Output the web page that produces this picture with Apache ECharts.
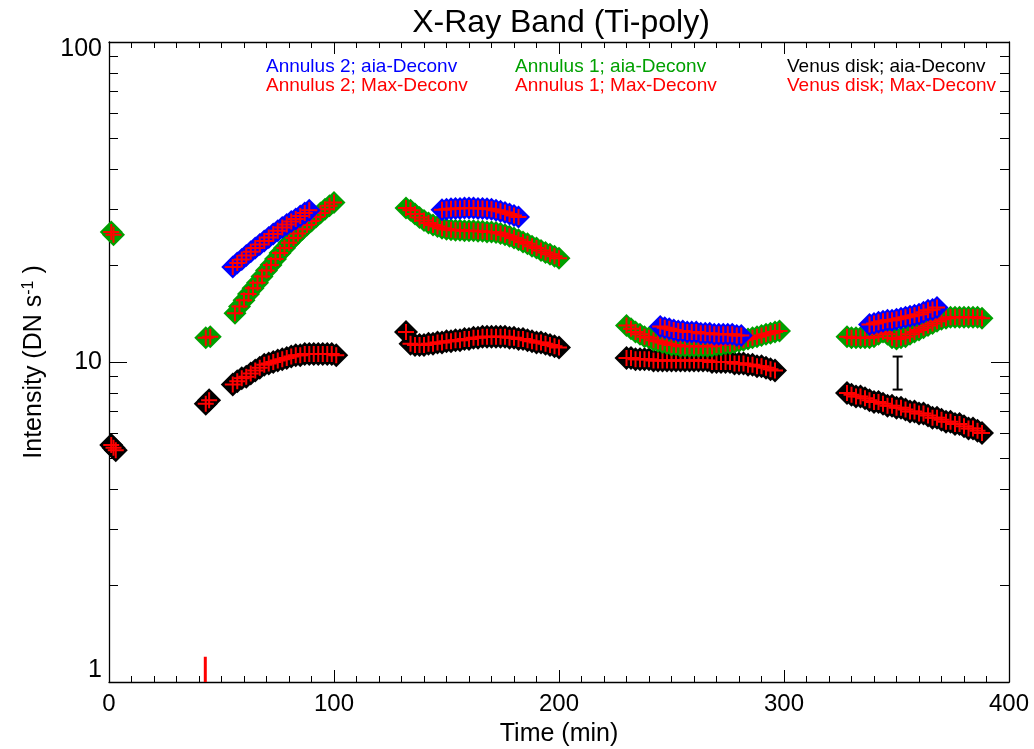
<!DOCTYPE html>
<html><head><meta charset="utf-8">
<script src="https://cdn.jsdelivr.net/npm/echarts@6/dist/echarts.min.js"></script>
<style>html,body{margin:0;padding:0;background:#fff}#c{width:1034px;height:749px}</style>
</head><body><div id="c"></div>
<script>
// ---- Venus disk ----
const tVenus = [1,2,3,43,44.5,
 55,57,59,61,63,65,67,69,71,73,75,77,79,81,83,85,87,89,91,93,95,97,99,101,
 132,134,136,138,140,142,144,146,148,150,152,154,156,158,160,162,164,166,168,170,172,174,176,178,180,182,184,186,188,190,192,194,196,198,200,
 230,232,234,236,238,240,242,244,246,248,250,252,254,256,258,260,262,264,266,268,270,272,274,276,278,280,282,284,286,288,290,292,294,296,
 328,330,332,334,336,338,340,342,344,346,348,350,352,354,356,358,360,362,364,366,368,370,372,374,376,378,380,382,384,386,388];
const venusAia = [5.5,5.4,5.3,7.4,7.6,
 8.5,8.7,8.9,9.0,9.2,9.4,9.6,9.8,9.9,10.0,10.1,10.2,10.3,10.4,10.5,10.5,10.6,10.6,10.6,10.6,10.6,10.6,10.6,10.5,
 12.4,11.4,11.3,11.3,11.3,11.4,11.4,11.5,11.5,11.6,11.6,11.7,11.7,11.8,11.8,11.9,11.9,12.0,12.0,12.0,12.0,12.0,12.0,11.9,11.9,11.8,11.8,11.7,11.6,11.5,11.5,11.4,11.3,11.2,11.1,
 10.3,10.3,10.2,10.2,10.2,10.2,10.1,10.1,10.1,10.1,10.1,10.1,10.1,10.1,10.1,10.1,10.1,10.1,10.1,10.0,10.0,10.0,10.0,10.0,9.9,9.9,9.9,9.8,9.8,9.7,9.7,9.6,9.5,9.4,
 8.0,7.9,7.8,7.8,7.7,7.6,7.5,7.5,7.4,7.3,7.3,7.2,7.2,7.1,7.0,7.0,6.9,6.9,6.8,6.7,6.7,6.6,6.5,6.5,6.4,6.4,6.3,6.2,6.2,6.1,6.0];
const venusMax = [5.5,5.4,5.3,7.4,7.6,
 8.5,8.7,8.9,9.0,9.2,9.4,9.6,9.8,9.9,10.0,10.1,10.2,10.3,10.4,10.5,10.5,10.6,10.6,10.6,10.6,10.6,10.6,10.6,10.5,
 12.4,11.4,11.3,11.3,11.3,11.4,11.4,11.5,11.5,11.6,11.6,11.7,11.7,11.8,11.8,11.9,11.9,12.0,12.0,12.0,12.0,12.0,12.0,11.9,11.9,11.8,11.8,11.7,11.6,11.5,11.5,11.4,11.3,11.2,11.1,
 10.3,10.3,10.2,10.2,10.2,10.2,10.1,10.1,10.1,10.1,10.1,10.1,10.1,10.1,10.1,10.1,10.1,10.1,10.1,10.0,10.0,10.0,10.0,10.0,9.9,9.9,9.9,9.8,9.8,9.7,9.7,9.6,9.5,9.4,
 8.0,7.9,7.8,7.8,7.7,7.6,7.5,7.5,7.4,7.3,7.3,7.2,7.2,7.1,7.0,7.0,6.9,6.9,6.8,6.7,6.7,6.6,6.5,6.5,6.4,6.4,6.3,6.2,6.2,6.1,6.0];

// ---- Annulus 1 ----
const tAnn1 = [1,2,43,45,
 56,58,60,62,64,66,68,70,72,74,76,78,80,82,84,86,88,90,92,94,96,98,100,
 132,134,136,138,140,142,144,146,148,150,152,154,156,158,160,162,164,166,168,170,172,174,176,178,180,182,184,186,188,190,192,194,196,198,200,
 230,232,234,236,238,240,242,244,246,248,250,252,254,256,258,260,262,264,266,268,270,272,274,276,278,280,282,284,286,288,290,292,294,296,298,
 328,330,332,334,336,338,340,342,344,346,348,350,352,354,356,358,360,362,364,366,368,370,372,374,376,378,380,382,384,386,388];
const ann1Aia = [25.5,25.0,11.9,12.0,
 14.2,14.9,15.6,16.3,17.0,17.7,18.5,19.3,20.1,21.0,21.9,22.7,23.6,24.4,25.2,26.0,26.8,27.6,28.4,29.2,30.0,30.8,31.5,
 30.3,29.8,29.0,28.3,27.7,27.2,26.8,26.5,26.2,26.0,25.9,25.8,25.8,25.7,25.7,25.7,25.6,25.6,25.5,25.5,25.4,25.2,25.0,24.7,24.4,24.1,23.7,23.4,23.0,22.7,22.3,22.0,21.7,21.4,21.1,
 13.0,12.7,12.4,12.2,12.0,11.9,11.7,11.6,11.5,11.4,11.3,11.3,11.2,11.2,11.2,11.2,11.2,11.2,11.2,11.2,11.3,11.3,11.4,11.4,11.5,11.6,11.7,11.8,11.9,12.0,12.1,12.2,12.3,12.4,12.5,
 12.0,11.9,11.9,11.9,11.9,11.9,12.0,12.2,12.4,12.2,11.9,11.8,11.9,12.0,12.2,12.4,12.6,12.8,13.0,13.2,13.4,13.6,13.7,13.8,13.8,13.8,13.8,13.8,13.8,13.8,13.7];
const ann1Max = [25.5,25.0,11.9,12.0,
 14.2,14.9,15.6,16.3,17.0,17.7,18.5,19.3,20.1,21.0,21.9,22.7,23.6,24.4,25.2,26.0,26.8,27.6,28.4,29.2,30.0,30.8,31.5,
 30.3,29.8,29.0,28.3,27.7,27.2,26.8,26.5,26.2,26.0,25.9,25.8,25.8,25.7,25.7,25.7,25.6,25.6,25.5,25.5,25.4,25.2,25.0,24.7,24.4,24.1,23.7,23.4,23.0,22.7,22.3,22.0,21.7,21.4,21.1,
 13.0,12.7,12.4,12.2,12.0,11.9,11.7,11.6,11.5,11.4,11.3,11.3,11.2,11.2,11.2,11.2,11.2,11.2,11.2,11.2,11.3,11.3,11.4,11.4,11.5,11.6,11.7,11.8,11.9,12.0,12.1,12.2,12.3,12.4,12.5,
 12.0,11.9,11.9,11.9,11.9,11.9,12.0,12.2,12.4,12.2,11.9,11.8,11.9,12.0,12.2,12.4,12.6,12.8,13.0,13.2,13.4,13.6,13.7,13.8,13.8,13.8,13.8,13.8,13.8,13.8,13.7];

// ---- Annulus 2 ----
const tAnn2 = [55,57,59,61,63,65,67,69,71,73,75,77,79,81,83,85,87,89,
 148,150,152,154,156,158,160,162,164,166,168,170,172,174,176,178,180,182,
 245,247,249,251,253,255,257,259,261,263,265,267,269,271,273,275,277,279,281,
 338,340,342,344,346,348,350,352,354,356,358,360,362,364,366,368];
const ann2Aia = [19.8,20.4,20.9,21.5,22.1,22.7,23.3,23.9,24.5,25.1,25.7,26.3,26.9,27.5,28.0,28.6,29.2,29.8,
 29.9,30.0,30.1,30.2,30.2,30.3,30.3,30.3,30.2,30.2,30.1,30.0,29.8,29.6,29.3,29.0,28.7,28.4,
 12.9,12.8,12.7,12.6,12.5,12.5,12.4,12.4,12.4,12.3,12.3,12.3,12.2,12.2,12.2,12.2,12.2,12.1,12.1,
 13.1,13.2,13.3,13.4,13.5,13.5,13.6,13.7,13.8,13.9,14.0,14.1,14.3,14.5,14.6,14.8];
const ann2Max = [19.8,20.4,20.9,21.5,22.1,22.7,23.3,23.9,24.5,25.1,25.7,26.3,26.9,27.5,28.0,28.6,29.2,29.8,
 29.9,30.0,30.1,30.2,30.2,30.3,30.3,30.3,30.2,30.2,30.1,30.0,29.8,29.6,29.3,29.0,28.7,28.4,
 12.9,12.8,12.7,12.6,12.5,12.5,12.4,12.4,12.4,12.3,12.3,12.3,12.2,12.2,12.2,12.2,12.2,12.1,12.1,
 13.1,13.2,13.3,13.4,13.5,13.5,13.6,13.7,13.8,13.9,14.0,14.1,14.3,14.5,14.6,14.8];

// ---- error bar and red time marker ----
const errTime = [350.5];
const errLow = [8.2];
const errHigh = [10.4];
const markTime = [42.8];
const markRange = [1, 1.2];

// ---- axis ticks ----
const yMajor = [1, 10, 100];
const yMinor = [2,3,4,5,6,7,8,9,20,30,40,50,60,70,80,90];

const FONT = '"Liberation Sans", Arial, Helvetica, sans-serif';
const pts = (t, v) => t.map((x, i) => [x, v[i]]);
const CROSS = 'path://M7,0H9V7H16V9H9V16H7V9H0V7H7Z';
const GREEN = '#00a000';

const chart = echarts.init(document.getElementById('c'), null, {renderer: 'canvas'});

function xAx(pos, showLabel) {
  return {
    type: 'value', position: pos, min: 0, max: 400, interval: 100,
    axisLine: {show: true, onZero: false, lineStyle: {color: '#000', width: 1.3}},
    axisTick: {show: true, inside: true, length: 12, lineStyle: {color: '#000'}},
    minorTick: {show: true, splitNumber: 10, length: 6, lineStyle: {color: '#000'}},
    splitLine: {show: false}, minorSplitLine: {show: false},
    axisLabel: {show: showLabel, color: '#000', fontSize: 24, fontFamily: FONT, margin: 10},
    name: showLabel ? 'Time (min)' : '', nameLocation: 'middle', nameGap: 40,
    nameTextStyle: {color: '#000', fontSize: 25, fontFamily: FONT}
  };
}
function yAx(pos, major, showLabel) {
  const o = {
    type: 'log', logBase: 10, position: pos, min: 1, max: 100,
    axisLine: {show: major, onZero: false, lineStyle: {color: '#000', width: 1.3}},
    axisTick: {show: true, inside: true, length: major ? 18 : 9,
      customValues: major ? yMajor : yMinor, lineStyle: {color: '#000'}},
    splitLine: {show: false},
    axisLabel: {show: showLabel, color: '#000', fontSize: 25, fontFamily: FONT, margin: 7,
      customValues: yMajor,
      formatter: function (v) {
        if (v >= 100) return '{top|' + v + '}';
        if (v <= 1) return '{bot|' + v + '}';
        return '{mid|' + v + '}';
      },
      rich: {
        top: {fontSize: 25, fontFamily: FONT, color: '#000', padding: [14, 0, 0, 0]},
        mid: {fontSize: 25, fontFamily: FONT, color: '#000'},
        bot: {fontSize: 25, fontFamily: FONT, color: '#000', padding: [0, 0, 24, 0]}
      }},
  };
  if (showLabel) {
    o.name = 'Intensity (DN s{sup|-1} )';
    o.nameLocation = 'middle';
    o.nameGap = 62;
    o.nameTextStyle = {color: '#000', fontSize: 25, fontFamily: FONT,
      rich: {sup: {fontSize: 16, fontFamily: FONT, color: '#000', verticalAlign: 'top', padding: [0, 0, 10, 0]}}};
  }
  return o;
}

const LEG = 19;
const noBorder = {borderWidth: 0, opacity: 1, shadowBlur: 0};
const option = {
  animation: false,
  backgroundColor: '#fff',
  title: {text: 'X-Ray Band (Ti-poly)', left: 556, top: 2, textAlign: 'center',
    textStyle: {color: '#000', fontSize: 32, fontWeight: 'normal', fontFamily: FONT}},
  grid: {left: 109, right: 25, top: 42, bottom: 67, containLabel: false, outerBoundsMode: 'none'},
  xAxis: [xAx('bottom', true), xAx('top', false)],
  yAxis: [yAx('left', true, true), yAx('left', false, false), yAx('right', true, false), yAx('right', false, false)],
  graphic: [
    {type: 'text', x: 266, y: 67, style: {text: 'Annulus 2; aia-Deconv', fill: '#0000ff', fontSize: LEG, fontFamily: FONT, verticalAlign: 'middle'}},
    {type: 'text', x: 266, y: 86, style: {text: 'Annulus 2; Max-Deconv', fill: '#ff0000', fontSize: LEG, fontFamily: FONT, verticalAlign: 'middle'}},
    {type: 'text', x: 515, y: 67, style: {text: 'Annulus 1; aia-Deconv', fill: GREEN, fontSize: LEG, fontFamily: FONT, verticalAlign: 'middle'}},
    {type: 'text', x: 515, y: 86, style: {text: 'Annulus 1; Max-Deconv', fill: '#ff0000', fontSize: LEG, fontFamily: FONT, verticalAlign: 'middle'}},
    {type: 'text', x: 787, y: 67, style: {text: 'Venus disk; aia-Deconv', fill: '#000', fontSize: LEG, fontFamily: FONT, verticalAlign: 'middle'}},
    {type: 'text', x: 787, y: 86, style: {text: 'Venus disk; Max-Deconv', fill: '#ff0000', fontSize: LEG, fontFamily: FONT, verticalAlign: 'middle'}}
  ],
  series: [
    {name: 'Venus disk; aia-Deconv', type: 'scatter', data: pts(tVenus, venusAia), symbol: 'diamond', symbolSize: 24, itemStyle: Object.assign({color: '#000'}, noBorder), z: 2},
    {name: 'Venus disk; Max-Deconv', type: 'scatter', data: pts(tVenus, venusMax), symbol: CROSS, symbolSize: 16, itemStyle: Object.assign({color: '#ff0000'}, noBorder), z: 3},
    {name: 'Annulus 1; aia-Deconv', type: 'scatter', data: pts(tAnn1, ann1Aia), symbol: 'diamond', symbolSize: 23, itemStyle: Object.assign({color: GREEN}, noBorder), z: 4},
    {name: 'Annulus 1; Max-Deconv', type: 'scatter', data: pts(tAnn1, ann1Max), symbol: CROSS, symbolSize: 16, itemStyle: Object.assign({color: '#ff0000'}, noBorder), z: 5},
    {name: 'Annulus 2; aia-Deconv', type: 'scatter', data: pts(tAnn2, ann2Aia), symbol: 'diamond', symbolSize: 23, itemStyle: Object.assign({color: '#0000ff'}, noBorder), z: 6},
    {name: 'Annulus 2; Max-Deconv', type: 'scatter', data: pts(tAnn2, ann2Max), symbol: CROSS, symbolSize: 16, itemStyle: Object.assign({color: '#ff0000'}, noBorder), z: 7},
    {name: 'error', type: 'custom', z: 8,
      data: errTime.map((t, i) => [t, errLow[i], errHigh[i]]),
      renderItem: function (params, api) {
        const lo = api.coord([api.value(0), api.value(1)]);
        const hi = api.coord([api.value(0), api.value(2)]);
        const st = {stroke: '#000', lineWidth: 2};
        return {type: 'group', children: [
          {type: 'line', shape: {x1: lo[0], y1: lo[1], x2: hi[0], y2: hi[1]}, style: st},
          {type: 'line', shape: {x1: lo[0] - 5, y1: lo[1], x2: lo[0] + 5, y2: lo[1]}, style: st},
          {type: 'line', shape: {x1: hi[0] - 5, y1: hi[1], x2: hi[0] + 5, y2: hi[1]}, style: st}
        ]};
      }},
    {name: 'marker', type: 'line', z: 8, symbol: 'none',
      data: markRange.map(v => [markTime[0], v]),
      lineStyle: {color: '#ff0000', width: 3}}
  ]
};
chart.setOption(option);
</script></body></html>
